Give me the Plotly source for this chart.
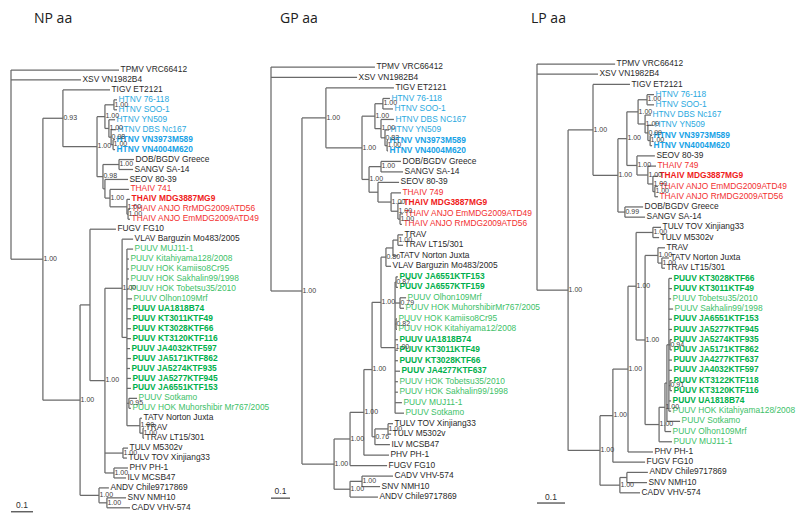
import plotly.graph_objects as go

# ---------------- DATA ----------------
# Newick-like trees: value after ':' = distance from root (substitutions/site),
# label after ')' = posterior support.
NP_TREE = (
    "('TPMV VRC66412':0.491,'XSV VN1982B4':0.318,"
    "(('TIGV ET2121':0.450,"
    "((('HTNV 76-118':0.482,'HTNV SOO-1':0.482)1.00:0.468,"
    "('HTNV YN509':0.473,('HTNV DBS Nc167':0.477,('HTNV VN3973M589':0.473,'HTNV VN4004M620':0.473)1.00:0.464)0.98:0.455)1.00:0.445)1.00:0.427,"
    "(('DOB/BGDV Greece':0.559,'SANGV SA-14':0.555)1.00:0.491,"
    "('SEOV 80-39':0.532,('THAIV 741':0.536,('THAIV MDG3887MG9':0.541,('THAIV ANJO RrMDG2009ATD56':0.541,'THAIV ANJO EmMDG2009ATD49':0.541)1.00:0.532)1.00:0.527)1.00:0.450):0.427)0.98:0.418"
    ")1.00:0.391)0.93:0.236,"
    "(('FUGV FG10':0.477,"
    "(('VLAV Barguzin Mo483/2005':0.555,"
    "('PUUV MUJ11-1':0.555,'PUUV Kitahiyama128/2008':0.536,'PUUV HOK Kamiiso8Cr95':0.536,"
    "'PUUV HOK Sakhalin99/1998':0.536,'PUUV HOK Tobetsu35/2010':0.536,'PUUV Olhon109Mrf':0.55,"
    "'PUUV UA1818B74':0.545,'PUUV KT3011KTF49':0.545,'PUUV KT3028KTF66':0.545,'PUUV KT3120KTF116':0.545,"
    "'PUUV JA4032KTF597':0.541,'PUUV JA5171KTF862':0.545,'PUUV JA5274KTF935':0.541,'PUUV JA5277KTF945':0.545,"
    "'PUUV JA6551KTF153':0.545,"
    "('PUUV Sotkamo':0.573,'PUUV HOK Muhorshibir Mr767/2005':0.545)0.95:0.536,"
    "('TATV Norton Juxta':0.595,('TRAV':0.605,'TRAV LT15/301':0.605)1.00:0.6)1.00:0.586"
    "):0.527)1.00:0.505,"
    "('TULV M5302v':0.532,'TULV TOV Xinjiang33':0.527)1.00:0.509,"
    "('PHV PH-1':0.532,'ILV MCSB47':0.523)1.00:0.468)1.00:0.427):0.359,"
    "('ANDV Chile9717869':0.445,('SNV NMH10':0.523,'CADV VHV-574':0.541)1.00:0.436)1.00:0.4"
    ")1.00:0.314)1.00:0.145);"
)

GP_TREE = (
    "('TPMV VRC66412':0.547,'XSV VN1982B4':0.453,"
    "(('TIGV ET2121':0.647,"
    "((('HTNV 76-118':0.626,'HTNV SOO-1':0.642)1.00:0.589,"
    "('HTNV DBS NC167':0.647,('HTNV YN509':0.621,('HTNV VN3973M589':0.616,'HTNV VN4004M620':0.616)1.00:0.611)0.82:0.6)1.00:0.579)1.00:0.547,"
    "(('DOB/BGDV Greece':0.684,'SANGV SA-14':0.695)1.00:0.579,"
    "('SEOV 80-39':0.674,('THAIV 749':0.684,('THAIV MDG3887MG9':0.689,('THAIV ANJO EmMDG2009ATD49':0.695,'THAIV ANJO RrMDG2009ATD56':0.689)1.00:0.679)1.00:0.668)1.00:0.632):0.563)1.00:0.516"
    ")1.00:0.479)1.00:0.289,"
    "(((((((('TRAV':0.695,'TRAV LT15/301':0.695)1.00:0.668,'TATV Norton Juxta':0.668):0.642,'VLAV Barguzin Mo483/2005':0.632)0.80:0.605,"
    "(('PUUV JA6551KTF153':0.668,'PUUV JA6557KTF159':0.668)0.87:0.658,"
    "('PUUV Olhon109Mrf':0.711,'PUUV HOK MuhorshibirMr767/2005':0.7)0.79:0.679,"
    "('PUUV HOK Kamiiso8Cr95':0.663,'PUUV HOK Kitahiyama12/2008':0.663)0.82:0.658,"
    "'PUUV UA1818B74':0.668,'PUUV KT3011KTF49':0.668,'PUUV KT3028KTF66':0.668,'PUUV JA4277KTF637':0.679,"
    "'PUUV HOK Tobetsu35/2010':0.668,'PUUV HOK Sakhalin99/1998':0.668,'PUUV MUJ11-1':0.689,'PUUV Sotkamo':0.7"
    ")1.00:0.653)1.00:0.579,"
    "(('TULV TOV Xinjiang33':0.642,'TULV M5302v':0.632)1.00:0.616,'ILV MCSB47':0.626)0.76:0.547)1.00:0.532,"
    "'PHV PH-1':0.621)1.00:0.489,'FUGV FG10':0.611)1.00:0.416,"
    "(('CADV VHV-574':0.642,'SNV NMH10':0.574)1.00:0.479,'ANDV Chile9717869':0.563)1.00:0.416"
    ")1.00:0.332)1.00:0.163);"
)

LP_TREE = (
    "('TPMV VRC66412':0.279,'XSV VN1982B4':0.218,"
    "(('TIGV ET2121':0.332,"
    "(((('HTNV 76-118':0.418,'HTNV SOO-1':0.418)1.00:0.393,"
    "('HTNV DBS Nc167':0.407,('HTNV YN509':0.414,('HTNV VN3973M589':0.411,'HTNV VN4004M620':0.411)1.00:0.404)0.99:0.396)1.00:0.386)1.00:0.361,"
    "('SEOV 80-39':0.421,('THAIV 749':0.425,('THAIV MDG3887MG9':0.432,('THAIV ANJO EmMDG2009ATD49':0.432,'THAIV ANJO RrMDG2009ATD56':0.432)1.00:0.421)1.00:0.414)1.00:0.396)1.00:0.357"
    ")1.00:0.321,"
    "('DOB/BGDV Greece':0.379,'SANGV SA-14':0.386)0.99:0.314)1.00:0.289)1.00:0.2,"
    "((((('TULV TOV Xinjiang33':0.443,'TULV M5302v':0.436)1.00:0.414,"
    "(('TRAV':0.457,('TATV Norton Juxta':0.471,'TRAV LT15/301':0.457)1.00:0.446)1.00:0.432,"
    "(((('PUUV KT3028KTF66':0.482,'PUUV KT3011KTF49':0.482,'PUUV Tobetsu35/2010':0.479,'PUUV Sakhalin99/1998':0.486,"
    "'PUUV JA6551KTF153':0.482,'PUUV JA5277KTF945':0.482,"
    "('PUUV JA5274KTF935':0.482,'PUUV JA5171KTF862':0.482)0.94:0.475,"
    "'PUUV JA4277KTF637':0.482,'PUUV JA4032KTF597':0.482,"
    "('PUUV KT3122KTF118':0.482,'PUUV KT3120KTF116':0.482)0.91:0.475,"
    "'PUUV UA1818B74':0.479,'PUUV HOK Kitahiyama128/2008':0.479):0.471,"
    "'PUUV Sotkamo':0.511):0.464,'PUUV Olhon109Mrf':0.479)1.00:0.457,"
    "'PUUV MUJ11-1':0.482)1.00:0.436)1.00:0.386)1.00:0.354,"
    "'PHV PH-1':0.414)1.00:0.325,'FUGV FG10':0.386)1.00:0.271,"
    "(('ANDV Chile9717869':0.396,'SNV NMH10':0.393):0.321,'CADV VHV-574':0.368)1.00:0.296"
    ")1.00:0.225)1.00:0.111);"
)

TITLES = ["NP aa", "GP aa", "LP aa"]
SCALE_LENGTH = 0.1
SCALE_LABEL = "0.1"

BOLD_TAXA = [
    "HTNV VN3973M589", "HTNV VN4004M620", "THAIV MDG3887MG9",
    "PUUV UA1818B74", "PUUV KT3011KTF49", "PUUV KT3028KTF66", "PUUV KT3120KTF116",
    "PUUV KT3122KTF118", "PUUV JA4032KTF597", "PUUV JA5171KTF862", "PUUV JA5274KTF935",
    "PUUV JA5277KTF945", "PUUV JA6551KTF153", "PUUV JA6557KTF159", "PUUV JA4277KTF637",
]

# ---------------- STYLE / LAYOUT ----------------
W, H = 800, 522
# per panel: root pixel x, pixels per unit, first-leaf pixel y, leaf spacing px, scale bar offset (leaves)
PANEL_GEOM = [
    dict(root_px=11, ppu=220, top=70, step=9.95, bar_off=0.4, title_x=32),
    dict(root_px=271, ppu=190, top=67, step=10.49, bar_off=0.1, title_x=278),
    dict(root_px=537, ppu=280, top=64, step=10.21, bar_off=1.0, title_x=529),
]
PREFIX_COLORS = {"HTNV": "#2aa9e0", "THAIV": "#f2302f", "PUUV": "#3dbf68"}
BOLD_COLORS = {"HTNV": "#17a2e6", "THAIV": "#f01c1c", "PUUV": "#00b04c"}
PLAIN_COLOR = "#2a2a2a"
LINE_COLOR = "#6a6a6a"
LEAF_FONT = "Liberation Sans, Arial, sans-serif"


def parse_newick(s):
    i = 0
    n = len(s)

    def skip():
        nonlocal i
        while i < n and s[i] in " \n\t":
            i += 1

    def token():
        nonlocal i
        skip()
        st = i
        while i < n and s[i] not in ",():;":
            i += 1
        return s[st:i].strip()

    def node():
        nonlocal i
        skip()
        nd = {"children": [], "name": "", "label": "", "depth": 0.0}
        if s[i] == "(":
            i += 1
            while True:
                nd["children"].append(node())
                skip()
                if i >= n:
                    raise ValueError("unbalanced tree")
                if s[i] == ",":
                    i += 1
                    continue
                if s[i] == ")":
                    i += 1
                    break
                raise ValueError("unexpected %r at %d" % (s[i], i))
            nd["label"] = token()
        else:
            if s[i] == "'":
                j = s.index("'", i + 1)
                nd["name"] = s[i + 1:j]
                i = j + 1
            else:
                nd["name"] = token()
        skip()
        if i < n and s[i] == ":":
            i += 1
            nd["depth"] = float(token())
        return nd

    return node()


def assign_y(root):
    leaves = []

    def walk(nd):
        if not nd["children"]:
            nd["y"] = len(leaves)
            leaves.append(nd)
        else:
            for c in nd["children"]:
                walk(c)
            nd["y"] = (nd["children"][0]["y"] + nd["children"][-1]["y"]) / 2.0

    walk(root)
    return leaves


def collect(nd, xs, ys, internals):
    if nd["children"]:
        kids = nd["children"]
        xs += [nd["depth"], nd["depth"], None]
        ys += [kids[0]["y"], kids[-1]["y"], None]
        if nd["label"]:
            internals.append(nd)
        for c in kids:
            xs += [nd["depth"], c["depth"], None]
            ys += [c["y"], c["y"], None]
            collect(c, xs, ys, internals)


def leaf_style(name):
    prefix = name.split(" ")[0]
    bold = name in BOLD_TAXA
    if prefix in PREFIX_COLORS:
        col = BOLD_COLORS[prefix] if bold else PREFIX_COLORS[prefix]
    else:
        col = PLAIN_COLOR
    txt = "<b>%s</b>" % name if bold else name
    return txt, col


fig = go.Figure()
layout_axes = {}
for k, (tree_str, geom, title) in enumerate(zip([NP_TREE, GP_TREE, LP_TREE], PANEL_GEOM, TITLES)):
    sfx = "" if k == 0 else str(k + 1)
    xa, ya = "x" + sfx, "y" + sfx
    root = parse_newick(tree_str)
    leaves = assign_y(root)
    xs, ys, internals = [], [], []
    collect(root, xs, ys, internals)
    ppu = geom["ppu"]

    fig.add_trace(go.Scatter(x=xs, y=ys, mode="lines", xaxis=xa, yaxis=ya,
                             line=dict(color=LINE_COLOR, width=1.25), hoverinfo="skip",
                             showlegend=False))
    texts, cols = zip(*[leaf_style(lf["name"]) for lf in leaves])
    fig.add_trace(go.Scatter(x=[lf["depth"] + 1.5 / ppu for lf in leaves],
                             y=[lf["y"] for lf in leaves], mode="text",
                             text=list(texts), textposition="middle right",
                             textfont=dict(family=LEAF_FONT, size=8.4, color=list(cols)),
                             xaxis=xa, yaxis=ya, hoverinfo="skip", showlegend=False,
                             cliponaxis=False))
    fig.add_trace(go.Scatter(x=[nd["depth"] + 0.5 / ppu for nd in internals],
                             y=[nd["y"] for nd in internals], mode="text",
                             text=[nd["label"] for nd in internals], textposition="middle right",
                             textfont=dict(family=LEAF_FONT, size=7, color="#404040"),
                             xaxis=xa, yaxis=ya, hoverinfo="skip", showlegend=False,
                             cliponaxis=False))
    bar_y = len(leaves) - 1 + geom["bar_off"]
    fig.add_trace(go.Scatter(x=[0, SCALE_LENGTH], y=[bar_y, bar_y], mode="lines",
                             line=dict(color="#404040", width=1.2), xaxis=xa, yaxis=ya,
                             hoverinfo="skip", showlegend=False))
    fig.add_trace(go.Scatter(x=[SCALE_LENGTH / 2], y=[bar_y - 0.55], mode="text",
                             text=[SCALE_LABEL], textposition="middle center",
                             textfont=dict(family=LEAF_FONT, size=8.5, color="#303030"),
                             xaxis=xa, yaxis=ya, hoverinfo="skip", showlegend=False,
                             cliponaxis=False))

    rp, top, step = geom["root_px"], geom["top"], geom["step"]
    layout_axes["xaxis" + sfx] = dict(domain=[0, 1], range=[-rp / ppu, (W - rp) / ppu],
                                      visible=False, fixedrange=True, anchor=ya)
    layout_axes["yaxis" + sfx] = dict(domain=[0, 1], range=[(H - top) / step, -top / step],
                                      visible=False, fixedrange=True, anchor=xa)

    fig.add_annotation(text=title, xref="paper", yref="paper", x=geom["title_x"] / W,
                       y=1 - 17.0 / H, xanchor="left", yanchor="middle", showarrow=False,
                       font=dict(family="Open Sans, Noto Sans, sans-serif", size=14, color="#202020"))

fig.update_layout(width=W, height=H, margin=dict(l=0, r=0, t=0, b=0),
                  paper_bgcolor="white", plot_bgcolor="rgba(0,0,0,0)",
                  hovermode=False, **layout_axes)

fig.write_html("out.html", config={"displayModeBar": False, "staticPlot": True},
               post_script="document.body.style.margin='0';")
